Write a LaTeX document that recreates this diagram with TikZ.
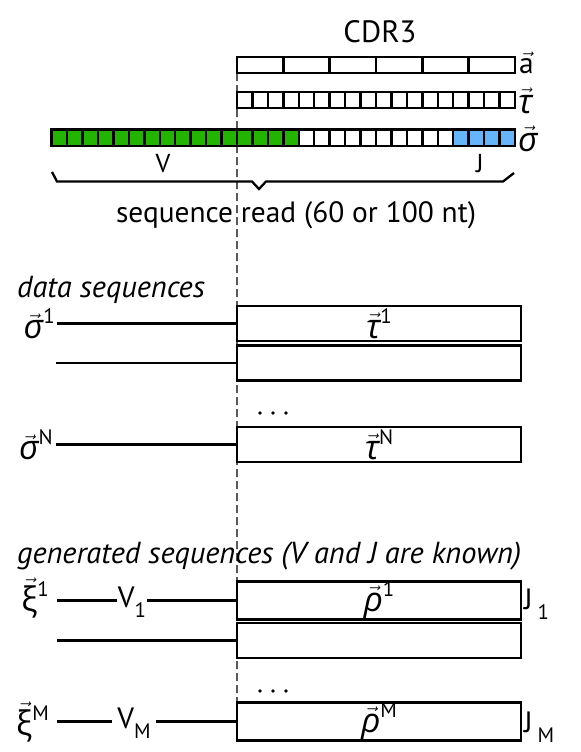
\documentclass[tikz,border=0pt]{standalone}
\usepackage{fontspec}
\setmainfont{PT Sans}
\newfontfamily\grk{Open Sans}
\definecolor{vgreen}{RGB}{34,180,0}
\definecolor{jblue}{RGB}{102,180,250}
\newcommand\vecg[1]{\ensuremath{\vec{\hbox{#1}}}}
\newcommand\gsz{\fontsize{34}{36}\selectfont}
\newcommand\gsig{\vecg{\grk\gsz\itshape σ}}
\newcommand\gtau{\vecg{\grk\gsz\itshape τ}}
\newcommand\grho{\vecg{\grk\gsz\itshape ρ}}
\newcommand\gxi{\vecg{\grk\gsz ξ}}
\newcommand\sps[1]{\raisebox{0.5em}{\fontsize{21}{22}\selectfont #1}}
\newcommand\sbs[1]{\raisebox{-0.35em}{\fontsize{21}{22}\selectfont #1}}
\begin{document}
\begin{tikzpicture}[x=1bp,y=-1bp,
  every node/.style={font=\fontsize{29.5}{34}\selectfont},
  seqbox/.style={draw,line width=2.8bp,minimum width=284bp,minimum height=35bp,inner sep=0pt,outer sep=0pt},
  rowbox/.style={draw,line width=2.5bp,minimum width=278bp,minimum height=16bp,inner sep=0pt,outer sep=0pt},
  cellbox/.style={draw,line width=2.5bp},
  seqline/.style={line width=2.4bp},
  bracepath/.style={line width=2.3bp},
  guide/.style={line width=1.3bp,dash pattern=on 8bp off 4bp},
  lbl/.style={inner sep=1pt},
  vlbl/.style={inner sep=1pt,fill=white},
  dotmark/.style={circle,fill=black,inner sep=0pt,minimum size=3.6bp}]
\useasboundingbox (0,0) rectangle (581,752);

% ---- top: CDR3 rows
\node[lbl,font=\fontsize{31}{34}\selectfont] (cdr) at (380,32) {CDR3};
\node[rowbox] (arow) at (376,65) {};
\foreach \i in {1,...,5} \draw[cellbox] ({237+\i*46.333},57) -- ({237+\i*46.333},73);
\node[rowbox] (trow) at (376,100) {};
\foreach \i in {1,...,17} \draw[cellbox] ({237+\i*15.444},92) -- ({237+\i*15.444},108);
\foreach \i in {0,...,29}{
  \ifnum\i<16 \def\cc{vgreen}\else\ifnum\i>25 \def\cc{jblue}\else\def\cc{white}\fi\fi
  \draw[cellbox,fill=\cc] ({51.67+\i*15.444},129.5) rectangle +(15.444,16.5);
}
\node[lbl,anchor=west] (alab) at (518,63) {\vecg{a}};
\node[lbl,anchor=west] (tlab) at (517,101) {\gtau};
\node[lbl,anchor=west] (slab) at (517,139) {\gsig};
\node[lbl,font=\fontsize{26}{28}\selectfont] (vlab) at (163,164) {V};
\node[lbl,font=\fontsize{26}{28}\selectfont] (jlab) at (480,164) {J};
\draw[bracepath] (52,172) -- (57,181.5) -- (252,181.5) -- (259,189) -- (266,181.5) -- (503,181.5) -- (514,173);
\node[lbl,anchor=base] (readlab) at (296,222) {sequence read (60 or 100 nt)};

% ---- data sequences
\node[lbl,anchor=base west,font=\fontsize{30.5}{34}\selectfont\itshape] (dlab) at (16,297) {data sequences};
\node[seqbox] (d1) at (379,323.5) {\gtau\sps{1}};
\node[seqbox] (d2) at (379,363) {};
\node[seqbox] (dN) at (379,444.5) {\gtau\sps{N}};
\coordinate (d1s) at (57,323.5);
\coordinate (d2s) at (56,363);
\coordinate (dNs) at (56,444.5);
\draw[seqline] (d1s) -- (d1.west);
\draw[seqline] (d2s) -- (d2.west);
\draw[seqline] (dNs) -- (dN.west);
\node[lbl,anchor=east] (sig1) at (56,324) {\gsig\sps{1}};
\node[lbl,anchor=east] (sigN) at (54,445) {\gsig\sps{N}};
\node[dotmark] (dd1) at (260,413) {};
\node[dotmark] (dd2) at (273,413) {};
\node[dotmark] (dd3) at (286,413) {};

% ---- generated sequences
\node[lbl,anchor=base west,font=\fontsize{30.5}{34}\selectfont\itshape] (glab) at (16,563) {generated sequences (V and J are known)};
\node[seqbox] (g1) at (379,600.5) {\grho\sps{1}};
\node[seqbox] (g2) at (379,640.5) {};
\node[seqbox] (gM) at (379,721.5) {\grho\sps{M}};
\coordinate (g1s) at (57,600.5);
\coordinate (g2s) at (57,640.5);
\coordinate (gMs) at (57,721.5);
\draw[seqline] (g1s) -- (g1.west);
\draw[seqline] (g2s) -- (g2.west);
\draw[seqline] (gMs) -- (gM.west);
\node[vlbl] (v1) at (132,602) {V\sbs{1}};
\node[vlbl,inner xsep=5pt] (vM) at (134,723) {V\sbs{M}};
\node[lbl,anchor=east] (xi1) at (50,598) {\gxi\sps{1}};
\node[lbl,anchor=east] (xiM) at (50,722) {\gxi\sps{M}};
\node[lbl,anchor=west] (j1) at (523,604) {J\,\sbs{1}};
\node[lbl,anchor=west] (jM) at (523,727) {J\,\sbs{M}};
\node[dotmark] (gd1) at (260,691) {};
\node[dotmark] (gd2) at (273,691) {};
\node[dotmark] (gd3) at (286,691) {};

% ---- guide line
\draw[guide] (arow.south west) -- (gM.north west);
\end{tikzpicture}
\end{document}
